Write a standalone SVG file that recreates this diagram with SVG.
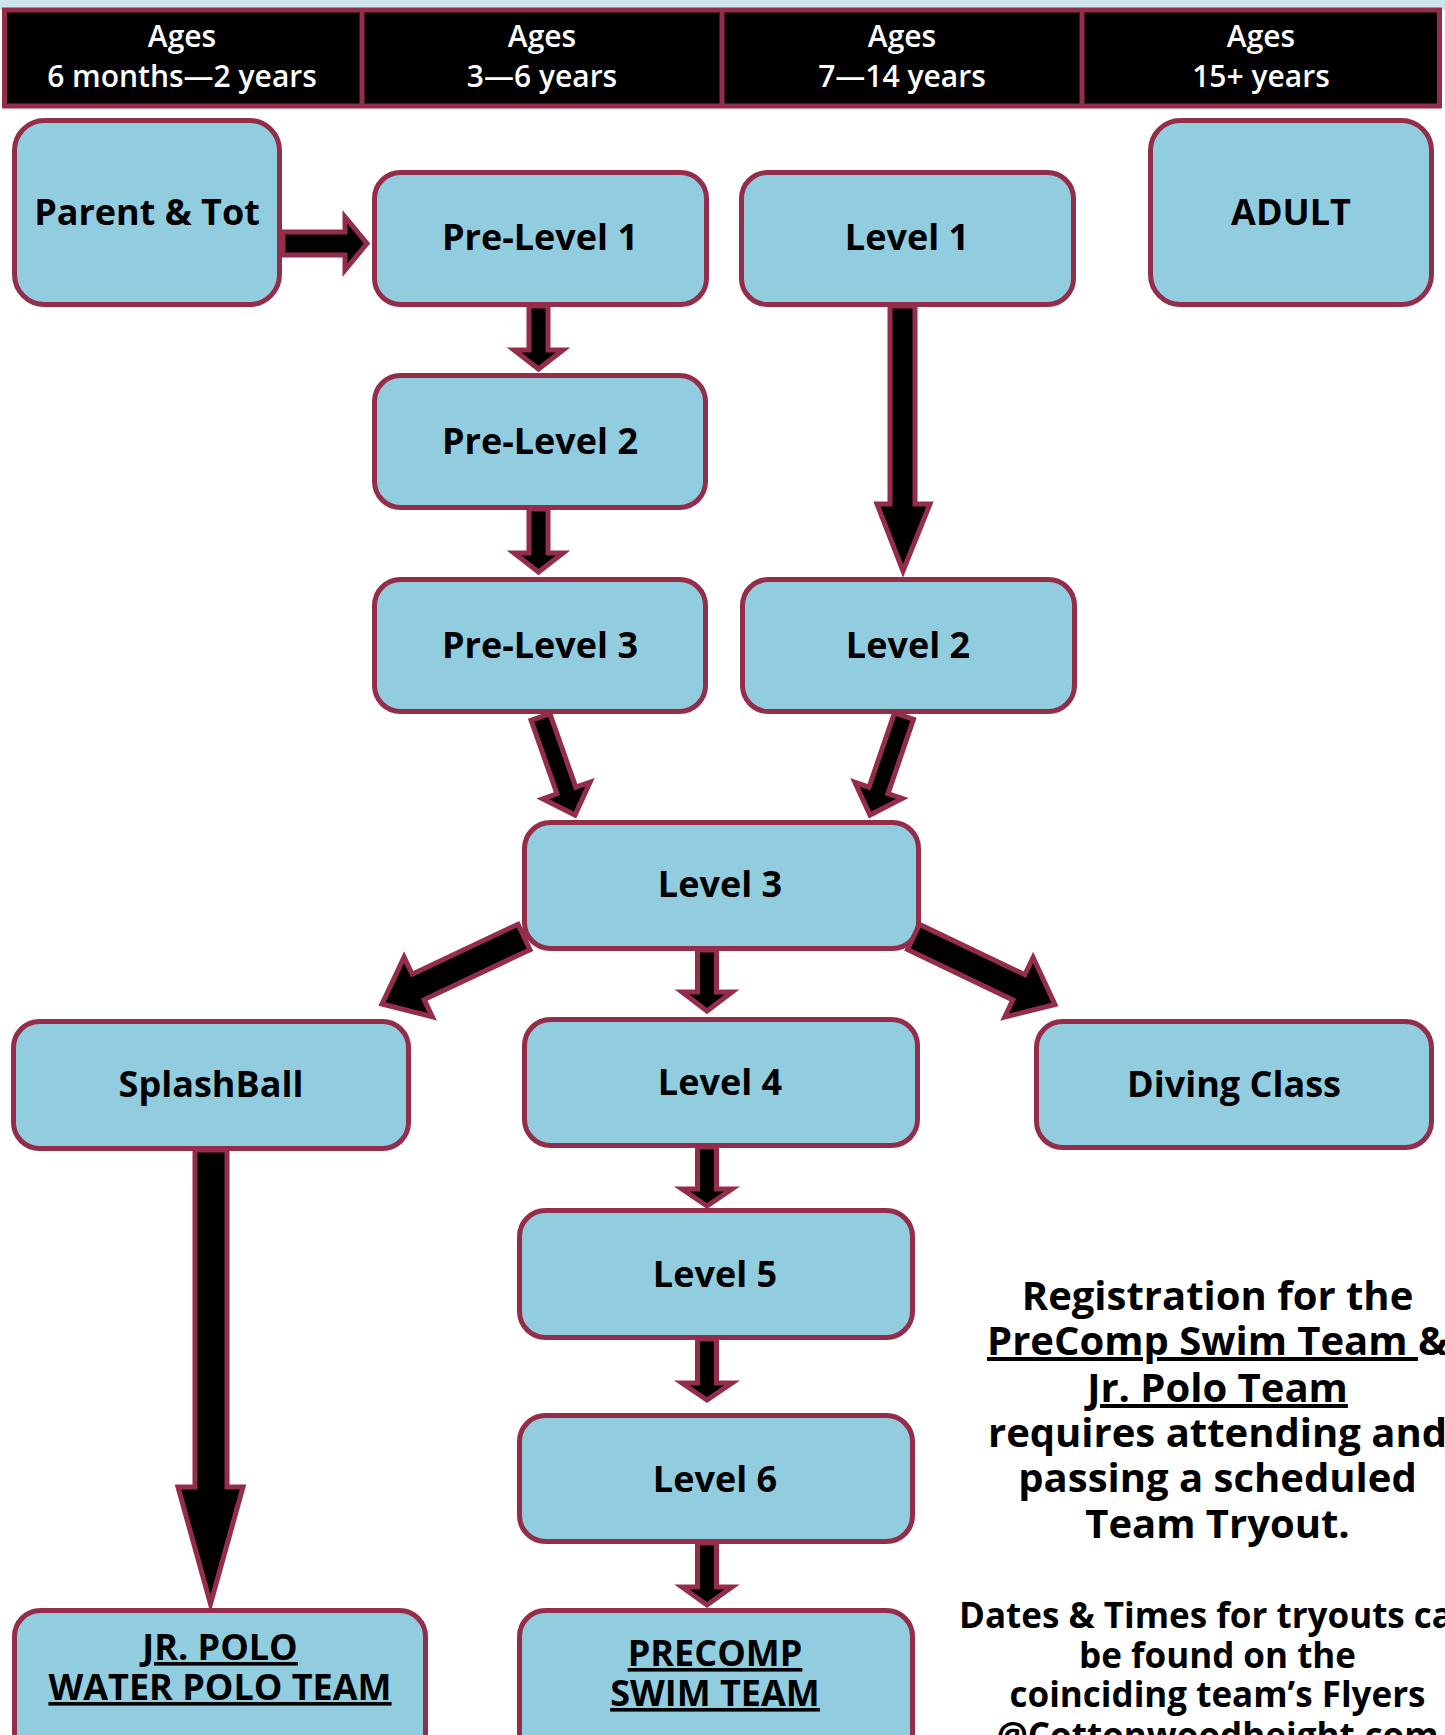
<svg xmlns="http://www.w3.org/2000/svg" width="1445" height="1735" viewBox="0 0 1445 1735">
<style>
.node rect{fill:#92cddf;stroke:#932d4a;stroke-width:5}
.lbl{font-family:"Open Sans","Liberation Sans",sans-serif;font-weight:700;font-size:36px;text-anchor:middle;fill:#000}
.ul{text-decoration:underline}
.arrow{fill:#000;stroke:#932d4a;stroke-width:5;stroke-linejoin:miter;stroke-miterlimit:10}
.hdr{font-family:"Open Sans","Liberation Sans",sans-serif;font-weight:600;font-size:30px;fill:#fff;text-anchor:middle}
.note{font-family:"Open Sans","Liberation Sans",sans-serif;font-weight:700;font-size:40px;text-anchor:middle;fill:#000;white-space:pre}
.note2{font-family:"Open Sans","Liberation Sans",sans-serif;font-weight:700;font-size:35px;text-anchor:middle;fill:#000}
</style>
<rect x="0" y="0" width="1445" height="1735" fill="#fff"/>
<rect x="0" y="0" width="1445" height="10" fill="#cfe5ec"/>
<g id="header">
<rect x="4.5" y="10" width="1435" height="96" fill="#000" stroke="#932d4a" stroke-width="5"/>
<line x1="362" y1="10" x2="362" y2="106" stroke="#932d4a" stroke-width="5"/>
<line x1="722" y1="10" x2="722" y2="106" stroke="#932d4a" stroke-width="5"/>
<line x1="1082" y1="10" x2="1082" y2="106" stroke="#932d4a" stroke-width="5"/>
<text class="hdr" x="182" y="47">Ages</text>
<text class="hdr" x="182" y="87">6 months—2 years</text>
<text class="hdr" x="542" y="47">Ages</text>
<text class="hdr" x="542" y="87">3—6 years</text>
<text class="hdr" x="902" y="47">Ages</text>
<text class="hdr" x="902" y="87">7—14 years</text>
<text class="hdr" x="1261" y="47">Ages</text>
<text class="hdr" x="1261" y="87">15+ years</text>
</g>
<g id="n-parent" class="node"><rect x="14.5" y="120.5" width="265" height="184" rx="30"/><text class="lbl" x="147" y="225">Parent &amp; Tot</text></g>
<g id="n-pre1" class="node"><rect x="374.5" y="172.5" width="332" height="132" rx="26"/><text class="lbl" x="540" y="250">Pre-Level 1</text></g>
<g id="n-l1" class="node"><rect x="741.5" y="172.5" width="332" height="132" rx="26"/><text class="lbl" x="907" y="250">Level 1</text></g>
<g id="n-adult" class="node"><rect x="1150.5" y="120.5" width="281" height="184" rx="30"/><text class="lbl" x="1291" y="225">ADULT</text></g>
<g id="n-pre2" class="node"><rect x="374.5" y="375.5" width="331" height="132" rx="26"/><text class="lbl" x="540" y="454">Pre-Level 2</text></g>
<g id="n-pre3" class="node"><rect x="374.5" y="579.5" width="331" height="132" rx="26"/><text class="lbl" x="540" y="658">Pre-Level 3</text></g>
<g id="n-l2" class="node"><rect x="742.5" y="579.5" width="332" height="132" rx="26"/><text class="lbl" x="908" y="658">Level 2</text></g>
<g id="n-l3" class="node"><rect x="524.5" y="822.5" width="394" height="126" rx="26"/><text class="lbl" x="720" y="897">Level 3</text></g>
<g id="n-splash" class="node"><rect x="13.5" y="1021.5" width="395" height="127" rx="26"/><text class="lbl" x="211" y="1097">SplashBall</text></g>
<g id="n-l4" class="node"><rect x="524.5" y="1019.5" width="393" height="126" rx="26"/><text class="lbl" x="720" y="1095">Level 4</text></g>
<g id="n-diving" class="node"><rect x="1036.5" y="1021.5" width="395" height="126" rx="26"/><text class="lbl" x="1234" y="1097">Diving Class</text></g>
<g id="n-l5" class="node"><rect x="519.5" y="1210.5" width="393" height="127" rx="26"/><text class="lbl" x="715" y="1287">Level 5</text></g>
<g id="n-l6" class="node"><rect x="519.5" y="1415.5" width="393" height="126" rx="26"/><text class="lbl" x="715" y="1492">Level 6</text></g>
<g id="n-jrpolo" class="node"><rect x="14.5" y="1610.5" width="411" height="200" rx="26"/><text class="lbl ul" x="220" y="1660">JR. POLO</text><text class="lbl ul" x="220" y="1700">WATER POLO TEAM</text></g>
<g id="n-precomp" class="node"><rect x="519.5" y="1610.5" width="393" height="200" rx="26"/><text class="lbl ul" x="715" y="1666">PRECOMP</text><text class="lbl ul" x="715" y="1706">SWIM TEAM</text></g>
<g id="connectors">
<polygon class="arrow" points="283,232 345,232 345,217 367,243.5 345,270 345,255 283,255"/>
<polygon class="arrow" points="529,306 548,306 548,350 563,350 538.5,369 514,350 529,350"/>
<polygon class="arrow" points="529,509 548,509 548,553 563,553 538.5,572 514,553 529,553"/>
<polygon class="arrow" points="890,306 915,306 915,504 930,504 903,571 877,504 890,504"/>
<polygon class="arrow" points="549.9,713.7 575.8,787.2 590,782.2 575,815 542.8,798.8 557,793.8 531.1,720.3"/>
<polygon class="arrow" points="913.5,719.3 888,793.7 902.2,798.5 870,815 854.9,782.3 869,787.2 894.5,712.8"/>
<polygon class="arrow" points="530,949.7 424.2,999.6 432.3,1016.7 382,1004 404.1,957.1 412.2,974.2 518,924.3"/>
<polygon class="arrow" points="907.5,949.6 1012.9,999.9 1004.7,1017.1 1055,1004.5 1033.1,957.5 1024.9,974.7 919.5,924.4"/>
<polygon class="arrow" points="697.5,950 716.5,950 716.5,992 732,992 707,1011 682,992 697.5,992"/>
<polygon class="arrow" points="697.5,1147 716.5,1147 716.5,1189 732,1189 707,1206 682,1189 697.5,1189"/>
<polygon class="arrow" points="697.5,1339 716.5,1339 716.5,1383 732,1383 707,1400 682,1383 697.5,1383"/>
<polygon class="arrow" points="697.5,1543 716.5,1543 716.5,1587 732,1587 707,1605 682,1587 697.5,1587"/>
<polygon class="arrow" points="195,1150 227,1150 227,1487 243,1487 210.5,1604 178,1487 195,1487"/>
</g>
<g id="notes">
<text class="note" x="1217.5" y="1310">Registration for the</text>
<text class="note" x="1217.5" y="1355"><tspan class="ul">PreComp Swim Team </tspan>&amp;</text>
<text class="note ul" x="1217.5" y="1402">Jr. Polo Team</text>
<text class="note" x="1217.5" y="1447">requires attending and</text>
<text class="note" x="1217.5" y="1492">passing a scheduled</text>
<text class="note" x="1217.5" y="1538">Team Tryout.</text>
<text class="note2" x="1217.5" y="1628">Dates &amp; Times for tryouts can</text>
<text class="note2" x="1217.5" y="1668">be found on the</text>
<text class="note2" x="1217.5" y="1707">coinciding team’s Flyers</text>
<text class="note2" x="1217.5" y="1748">@Cottonwoodheight.com</text>
</g>
</svg>
